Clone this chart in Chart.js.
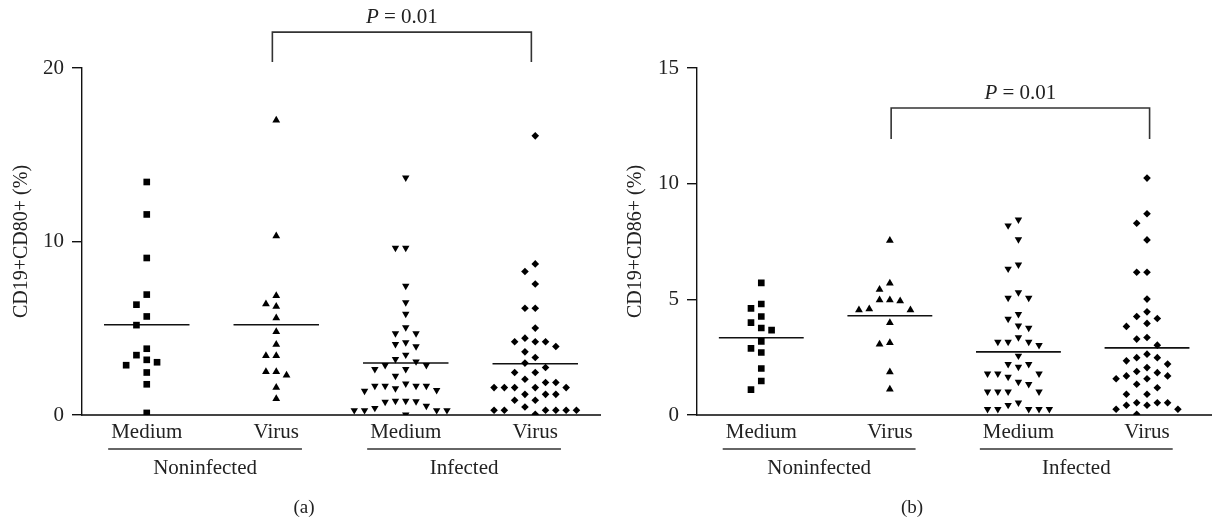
<!DOCTYPE html>
<html>
<head>
<meta charset="utf-8">
<script src="https://cdn.jsdelivr.net/npm/chart.js@4.4.1/dist/chart.umd.min.js"></script>
<style>
    html, body { margin: 0; padding: 0; background: #fff; }
    #wrap { position: relative; width: 1216px; height: 520px; }
    canvas { position: absolute; top: 0; }
    #chartA { left: 0; }
    #chartB { left: 608px; }
</style>
</head>
<body>
<div id="wrap">
    <canvas id="chartA" width="608" height="520"></canvas>
    <canvas id="chartB" width="608" height="520"></canvas>
</div>
<script>
// Categories
const catPos = [1, 2, 3, 4];
const catLabels = ['Medium', 'Virus', 'Medium', 'Virus'];
const groupLabels = ['Noninfected', 'Infected'];
const pStat = ['P', ' = 0.01'];

// Panel (a): CD19+CD80+ (%)
const aNonMedium = [13.43, 11.56, 9.05, 6.94, 6.36, 5.68, 5.18, 3.82, 3.45, 3.18, 3.04, 2.87, 2.45, 1.77, 0.12];
const aNonVirus = [16.99, 10.31, 6.88, 6.40, 6.26, 5.59, 4.80, 4.07, 3.41, 3.41, 2.49, 2.49, 2.29, 1.58, 0.94];
const aInfMedium = [13.68, 9.63, 9.63, 7.44, 6.49, 5.82, 5.05, 4.70, 4.70, 4.18, 4.08, 3.95, 3.47, 3.22, 3.08,
    2.87, 2.87, 2.64, 2.64, 2.25, 1.81, 1.68, 1.68, 1.68, 1.68, 1.53, 1.43, 1.39, 0.81, 0.81, 0.78, 0.75,
    0.52, 0.40, 0.27, 0.27, 0.27, 0.27, 0.02];
const aInfVirus = [16.09, 8.71, 8.27, 7.55, 6.15, 6.15, 5.01, 4.43, 4.22, 4.22, 4.22, 3.95, 3.64, 3.31, 2.99,
    2.74, 2.45, 2.45, 2.06, 1.87, 1.87, 1.58, 1.58, 1.58, 1.58, 1.58, 1.19, 1.19, 1.19, 0.85, 0.85, 0.46,
    0.27, 0.27, 0.27, 0.27, 0.27, 0.27, 0.04];
const aMeans = [5.2, 5.2, 3.0, 2.95];
const aTicks = [0, 10, 20];
const aBracketX = [1.97, 3.97];
const aBracketY = [20.35, 22.07];

// Panel (b): CD19+CD86+ (%)
const bNonMedium = [5.71, 4.80, 4.61, 4.26, 3.99, 3.76, 3.67, 3.18, 2.88, 2.70, 2.01, 1.47, 1.10];
const bNonVirus = [7.54, 5.69, 5.43, 4.97, 4.97, 4.93, 4.58, 4.54, 4.54, 3.99, 3.12, 3.06, 1.86, 1.11];
const bInfMedium = [8.44, 8.19, 7.59, 6.50, 6.32, 5.30, 5.06, 5.06, 4.36, 4.15, 3.86, 3.76, 3.35, 3.16, 3.16,
    3.16, 3.02, 2.56, 2.20, 2.20, 2.08, 1.79, 1.79, 1.79, 1.65, 1.43, 1.33, 1.01, 1.01, 1.01, 1.01, 0.53,
    0.43, 0.25, 0.25, 0.25, 0.25, 0.25];
const bInfVirus = [10.24, 8.70, 8.29, 7.57, 6.17, 6.17, 5.01, 4.46, 4.26, 4.17, 3.96, 3.83, 3.35, 3.28, 3.02,
    2.63, 2.48, 2.48, 2.34, 2.20, 2.05, 1.88, 1.83, 1.69, 1.69, 1.57, 1.57, 1.33, 1.18, 0.90, 0.90, 0.53,
    0.53, 0.53, 0.42, 0.42, 0.25, 0.25, 0.03];
const bMeans = [3.34, 4.29, 2.73, 2.90];
const bTicks = [0, 5, 10, 15];
const bBracketX = [2.01, 4.02];
const bBracketY = [11.93, 13.27];

const FONT = "21px 'Liberation Serif', 'DejaVu Serif', serif";
const TEXT = '#222';

const markers = [
    { style: 'rect', radius: 4.7, rotation: 0 },
    { style: 'triangle', radius: 4.5, rotation: 0 },
    { style: 'triangle', radius: 4.3, rotation: 180 },
    { style: 'rectRot', radius: 3.8, rotation: 0 }
];

// Column scatter layout: spread points sideways when they would overlap
function swarm(values, cat, yPx, stepX, gap) {
    const placed = [];
    return values.slice().sort((a, b) => b - a).map(v => {
        const py = yPx(v);
        for (let k = 0; k < 20; k++) {
            const col = k === 0 ? 0 : (k % 2 ? -(k + 1) / 2 : k / 2);
            if (!placed.some(p => p.col === col && Math.abs(p.py - py) < gap)) {
                placed.push({ col, py });
                return { x: cat + col * stepX, y: v };
            }
        }
    });
}

const annotations = {
    id: 'annotations',
    afterDraw(chart) {
        const p = chart.options.plugins.annotations;
        const ctx = chart.ctx;
        const xs = chart.scales.x;
        const ys = chart.scales.y;
        const base = chart.chartArea.bottom;
        ctx.save();
        ctx.font = FONT;
        ctx.fillStyle = TEXT;
        ctx.textBaseline = 'alphabetic';

        // group underlines + labels
        groupLabels.forEach((g, gi) => {
            const i0 = gi * 2, i1 = gi * 2 + 1;
            const x0 = xs.getPixelForValue(catPos[i0]) - ctx.measureText(catLabels[i0]).width / 2 - 3;
            const x1 = xs.getPixelForValue(catPos[i1]) + ctx.measureText(catLabels[i1]).width / 2 + 3;
            ctx.strokeStyle = '#333';
            ctx.lineWidth = 1.6;
            ctx.beginPath();
            ctx.moveTo(x0, base + 34);
            ctx.lineTo(x1, base + 34);
            ctx.stroke();
            ctx.textAlign = 'center';
            ctx.fillText(g, (x0 + x1) / 2, base + 59);
        });

        // panel letter
        ctx.textAlign = 'center';
        ctx.font = "19px 'Liberation Serif', serif";
        ctx.fillText(p.letter, chart.width / 2, base + 98);

        // P value above bracket
        const cx = (xs.getPixelForValue(p.bracketX[0]) + xs.getPixelForValue(p.bracketX[1])) / 2;
        const ty = ys.getPixelForValue(p.bracketY[1]) - 9;
        ctx.font = "italic " + FONT;
        const wP = ctx.measureText(pStat[0]).width;
        ctx.font = FONT;
        const wR = ctx.measureText(pStat[1]).width;
        const left = cx - (wP + wR) / 2;
        ctx.textAlign = 'left';
        ctx.font = "italic " + FONT;
        ctx.fillText(pStat[0], left, ty);
        ctx.font = FONT;
        ctx.fillText(pStat[1], left + wP, ty);
        ctx.restore();
    }
};

function buildPanel(id, cfg) {
    const pointSets = cfg.groups.map((vals, i) => ({
        type: 'scatter',
        data: vals.map(v => ({ x: catPos[i], y: v })),
        pointStyle: markers[i].style,
        pointRadius: markers[i].radius,
        pointRotation: markers[i].rotation,
        backgroundColor: '#000',
        borderColor: '#000',
        borderWidth: 0,
        pointHoverRadius: markers[i].radius
    }));
    const meanSets = cfg.means.map((m, i) => ({
        type: 'line',
        data: [{ x: catPos[i] - 0.33, y: m }, { x: catPos[i] + 0.33, y: m }],
        borderColor: '#111',
        borderWidth: 1.6,
        pointRadius: 0,
        showLine: true
    }));
    const bracketSet = {
        type: 'line',
        data: [
            { x: cfg.bracketX[0], y: cfg.bracketY[0] },
            { x: cfg.bracketX[0], y: cfg.bracketY[1] },
            { x: cfg.bracketX[1], y: cfg.bracketY[1] },
            { x: cfg.bracketX[1], y: cfg.bracketY[0] }
        ],
        borderColor: '#333',
        borderWidth: 1.6,
        pointRadius: 0,
        showLine: true,
        clip: false
    };

    const chart = new Chart(document.getElementById(id), {
        type: 'scatter',
        data: { datasets: [...pointSets, ...meanSets, bracketSet] },
        options: {
            responsive: false,
            animation: false,
            events: [],
            layout: { padding: { top: 68, right: cfg.padRight, bottom: 0, left: 0 } },
            plugins: {
                legend: { display: false },
                tooltip: { enabled: false },
                annotations: { letter: cfg.letter, bracketX: cfg.bracketX, bracketY: cfg.bracketY }
            },
            scales: {
                x: {
                    type: 'linear',
                    min: 0.5,
                    max: 4.5,
                    afterBuildTicks: s => { s.ticks = catPos.map(v => ({ value: v })); },
                    afterFit: s => { s.height = 105; },
                    ticks: {
                        autoSkip: false,
                        maxRotation: 0,
                        padding: 5,
                        color: TEXT,
                        font: { family: "'Liberation Serif', serif", size: 21 },
                        callback: v => catLabels[catPos.indexOf(v)]
                    },
                    grid: { display: false, drawTicks: false },
                    border: { color: '#444', width: 2 }
                },
                y: {
                    min: cfg.ticks[0],
                    max: cfg.ticks[cfg.ticks.length - 1],
                    afterBuildTicks: s => { s.ticks = cfg.ticks.map(v => ({ value: v })); },
                    afterFit: s => { s.width = cfg.axisLeft; },
                    ticks: {
                        padding: 8,
                        color: TEXT,
                        font: { family: "'Liberation Serif', serif", size: 21 }
                    },
                    grid: { drawOnChartArea: false, drawTicks: true, tickLength: 10, color: '#111', lineWidth: 1.4 },
                    border: { color: '#111', width: 1.4 },
                    title: {
                        display: true,
                        text: cfg.yTitle,
                        color: TEXT,
                        font: { family: "'Liberation Serif', serif", size: 20 },
                        padding: { top: cfg.titlePad, bottom: 0 }
                    }
                }
            }
        },
        plugins: [annotations]
    });

    // spread the points once the scales are known
    const xs = chart.scales.x, ys = chart.scales.y;
    const stepX = 10.3 / (xs.getPixelForValue(2) - xs.getPixelForValue(1));
    cfg.groups.forEach((vals, i) => {
        chart.data.datasets[i].data = swarm(vals, catPos[i], v => ys.getPixelForValue(v), stepX, 10.5);
    });
    chart.update('none');
    return chart;
}

document.addEventListener('DOMContentLoaded', () => {
    buildPanel('chartA', {
        groups: [aNonMedium, aNonVirus, aInfMedium, aInfVirus],
        means: aMeans, ticks: aTicks,
        bracketX: aBracketX, bracketY: aBracketY,
        yTitle: 'CD19+CD80+ (%)', letter: '(a)',
        axisLeft: 82, padRight: 8, titlePad: 10
    });
    buildPanel('chartB', {
        groups: [bNonMedium, bNonVirus, bInfMedium, bInfVirus],
        means: bMeans, ticks: bTicks,
        bracketX: bBracketX, bracketY: bBracketY,
        yTitle: 'CD19+CD86+ (%)', letter: '(b)',
        axisLeft: 89, padRight: 0, titlePad: 16
    });
});
</script>
</body>
</html>
